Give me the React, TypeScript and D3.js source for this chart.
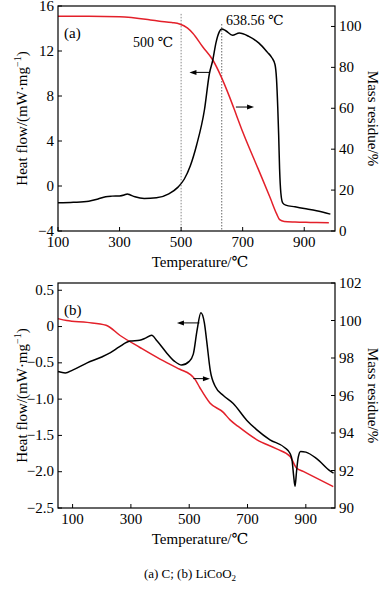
import React from "react";
import * as d3 from "d3";

// ---------- Data (a) C ----------
const tempA_heat = [100, 150, 200, 230, 255, 275, 300, 315, 325, 335, 350, 380, 420, 460, 490, 510, 530, 550, 576, 592, 603, 613, 624, 632, 645, 667, 689, 720, 753, 780, 795, 805, 810, 814, 817, 820, 824, 830, 840, 870, 900, 940, 985];
const heatA = [-1.5, -1.45, -1.35, -1.15, -0.95, -0.9, -0.88, -0.8, -0.7, -0.8, -0.95, -1.1, -1.05, -0.7, -0.1, 0.6, 1.8, 3.6, 6.8, 10.0, 11.2, 12.7, 13.7, 13.95, 13.8, 13.4, 13.6, 13.3, 12.7, 11.9, 11.4, 10.8, 9.5, 7.0, 4.5, 1.5, -0.6, -1.5, -1.7, -1.85, -2.0, -2.2, -2.5];
const tempA_mass = [100, 200, 300, 400, 430, 470, 495, 520, 538, 570, 603, 630, 657, 680, 700, 750, 790, 810, 820, 835, 870, 920, 980];
const massA = [105, 105, 104.7, 103.2, 102.6, 101.9, 101.2, 99.3, 96.7, 90.1, 83.6, 75.5, 65.7, 56.5, 48.5, 30.5, 16.0, 8.5, 5.6, 4.7, 4.4, 4.2, 4.0];

// ---------- Data (b) LiCoO2 ----------
const tempB_heat = [50, 75, 100, 150, 200, 230, 260, 297, 330, 350, 371, 390, 420, 450, 474, 500, 514, 527, 540, 552, 560, 572, 590, 617, 651, 697, 731, 777, 828, 846, 853, 858, 863, 868, 874, 882, 900, 937, 983, 995];
const heatB = [-0.62, -0.64, -0.6, -0.5, -0.42, -0.36, -0.28, -0.2, -0.19, -0.16, -0.12, -0.2, -0.35, -0.48, -0.53, -0.48, -0.38, -0.05, 0.19, 0.05, -0.2, -0.6, -0.83, -0.95, -1.06, -1.29, -1.42, -1.56, -1.67, -1.75, -1.85, -2.05, -2.2, -2.0, -1.8, -1.72, -1.73, -1.82, -1.99, -2.02];
const tempB_mass = [50, 80, 150, 215, 263, 331, 400, 468, 503, 520, 537, 571, 617, 640, 668, 731, 800, 846, 868, 891, 994];
const massB = [100.1, 100.0, 99.9, 99.75, 99.2, 98.56, 97.94, 97.4, 97.13, 96.86, 96.4, 95.6, 95.1, 94.7, 94.35, 93.65, 93.15, 92.75, 92.13, 91.95, 91.14];

// ---------- Ticks ----------
const xTicksA = [100, 300, 500, 700, 900];
const leftTicksA = [-4, 0, 4, 8, 12, 16];
const rightTicksA = [0, 20, 40, 60, 80, 100];
const xTicksB = [100, 300, 500, 700, 900];
const leftTicksB = [0.5, 0, -0.5, -1.0, -1.5, -2.0, -2.5];
const rightTicksB = [90, 92, 94, 96, 98, 100, 102];

const FONT = "'Liberation Serif', 'Times New Roman', 'DejaVu Serif', serif";
const RED = "#e3202a";

type PanelProps = {
  top: number;
  xDomain: [number, number];
  leftDomain: [number, number];
  rightDomain: [number, number];
  xTicks: number[];
  leftTicks: number[];
  rightTicks: number[];
  leftFmt: (v: number) => string;
  heatT: number[];
  heatV: number[];
  massT: number[];
  massV: number[];
  label: string;
  arrowL: { t0: number; t1: number; v: number };
  arrowR: { t0: number; t1: number; v: number };
  children?: (x: d3.ScaleLinear<number, number>, yL: d3.ScaleLinear<number, number>) => React.ReactNode;
};

const L = 58, R = 335, H = 225;

function Panel(p: PanelProps) {
  const x = d3.scaleLinear().domain(p.xDomain).range([L, R]);
  const yL = d3.scaleLinear().domain(p.leftDomain).range([p.top + H, p.top]);
  const yR = d3.scaleLinear().domain(p.rightDomain).range([p.top + H, p.top]);
  const heatLine = d3.line<number>().x((_, i) => x(p.heatT[i])).y((d) => yL(d)).curve(d3.curveMonotoneX);
  const massLine = d3.line<number>().x((_, i) => x(p.massT[i])).y((d) => yR(d)).curve(d3.curveMonotoneX);
  const bottom = p.top + H;
  const minus = (s: string) => s.replace("-", "\u2212");
  const ay = yL(p.arrowL.v);
  const ax0 = x(p.arrowL.t0), ax1 = x(p.arrowL.t1);
  const by = yR(p.arrowR.v);
  const bx0 = x(p.arrowR.t0), bx1 = x(p.arrowR.t1);
  return (
    <g>
      {p.children && p.children(x, yL)}
      <path d={massLine(p.massV) || ""} fill="none" stroke={RED} strokeWidth={1.5} />
      <path d={heatLine(p.heatV) || ""} fill="none" stroke="#000" strokeWidth={1.5} />
      <rect x={L} y={p.top} width={R - L} height={H} fill="none" stroke="#000" strokeWidth={1.2} />
      {p.xTicks.map((t) => (
        <g key={"x" + t}>
          <line x1={x(t)} x2={x(t)} y1={bottom} y2={bottom - 4} stroke="#000" />
          <text x={x(t)} y={bottom + 16} textAnchor="middle" fontSize={15}>{t}</text>
        </g>
      ))}
      {p.leftTicks.map((t) => (
        <g key={"l" + t}>
          <line x1={L} x2={L + 4} y1={yL(t)} y2={yL(t)} stroke="#000" />
          <text x={L - 4} y={yL(t) + 4.5} textAnchor="end" fontSize={15}>{minus(p.leftFmt(t))}</text>
        </g>
      ))}
      {p.rightTicks.map((t) => (
        <g key={"r" + t}>
          <line x1={R} x2={R - 4} y1={yR(t)} y2={yR(t)} stroke="#000" />
          <text x={R + 4} y={yR(t) + 5} textAnchor="start" fontSize={15}>{t}</text>
        </g>
      ))}
      <text x={200} y={bottom + 36} textAnchor="middle" fontSize={15}>Temperature/℃</text>
      <text transform={`translate(27,${p.top + H / 2}) rotate(-90)`} textAnchor="middle" fontSize={15}>
        Heat flow/(mW·mg<tspan dy={-6} fontSize={10}>−1</tspan><tspan dy={6}>)</tspan>
      </text>
      <text transform={`translate(368,${p.top + H / 2}) rotate(90)`} textAnchor="middle" fontSize={15}>Mass residue/%</text>
      <text x={64} y={p.top + 32} fontSize={15}>{p.label}</text>
      {/* arrows */}
      <line x1={ax0 + 5} x2={ax1} y1={ay} y2={ay} stroke="#000" strokeWidth={1} />
      <path d={`M${ax0},${ay} L${ax0 + 7},${ay - 2.5} L${ax0 + 7},${ay + 2.5} Z`} fill="#000" />
      <line x1={bx0} x2={bx1 - 5} y1={by} y2={by} stroke="#000" strokeWidth={1} />
      <path d={`M${bx1},${by} L${bx1 - 7},${by - 2.5} L${bx1 - 7},${by + 2.5} Z`} fill="#000" />
    </g>
  );
}

export default function App() {
  return (
    <svg width={380} height={589} style={{ display: "block", position: "absolute", left: 0, top: 0 }} fontFamily={FONT}>
      <rect width={380} height={589} fill="#fff" />
      <Panel
        top={6}
        xDomain={[100, 1000]}
        leftDomain={[-4, 16]}
        rightDomain={[0, 110]}
        xTicks={xTicksA}
        leftTicks={leftTicksA}
        rightTicks={rightTicksA}
        leftFmt={(v) => String(v)}
        heatT={tempA_heat}
        heatV={heatA}
        massT={tempA_mass}
        massV={massA}
        label="(a)"
        arrowL={{ t0: 527, t1: 592, v: 10.1 }}
        arrowR={{ t0: 678, t1: 737, v: 60.6 }}
      >
        {(x, yL) => (
          <g>
            <line x1={x(500)} x2={x(500)} y1={yL(15.3)} y2={yL(-4)} stroke="#888" strokeDasharray="1.5,1.5" />
            <line x1={x(632)} x2={x(632)} y1={yL(14.4)} y2={yL(-4)} stroke="#666" strokeDasharray="1.5,1.5" />
            <text x={133} y={47} fontSize={14}>500 ℃</text>
            <text x={226} y={25} fontSize={14}>638.56 ℃</text>
          </g>
        )}
      </Panel>
      <Panel
        top={283}
        xDomain={[50, 1000]}
        leftDomain={[-2.5, 0.6]}
        rightDomain={[90, 102]}
        xTicks={xTicksB}
        leftTicks={leftTicksB}
        rightTicks={rightTicksB}
        leftFmt={(v) => (v === 0 ? "0" : v.toFixed(1))}
        heatT={tempB_heat}
        heatV={heatB}
        massT={tempB_mass}
        massV={massB}
        label="(b)"
        arrowL={{ t0: 458, t1: 535, v: 0.05 }}
        arrowR={{ t0: 514, t1: 571, v: 96.9 }}
      />
      <text x={190} y={578} textAnchor="middle" fontSize={13}>
        (a) C; (b) LiCoO<tspan dy={3} fontSize={9}>2</tspan>
      </text>
    </svg>
  );
}
